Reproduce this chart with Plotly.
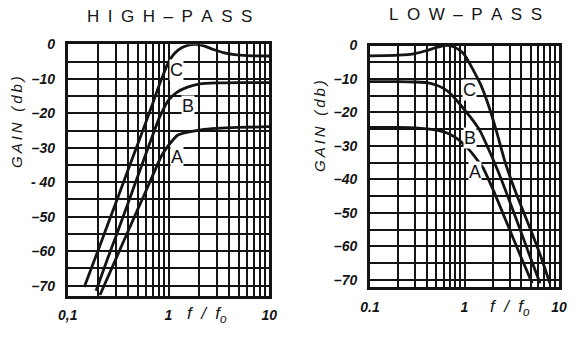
import math
import plotly.graph_objects as go

# ---- High-pass family (f/fo, gain in dB) ----
hp_a_f = [0.209, 0.3, 0.4, 0.5, 0.6, 0.735, 0.85, 1.0, 1.24, 1.6, 2.1, 3, 5, 10]
hp_a_db = [-72.7, -62.3, -54, -47.6, -42.4, -36.5, -32.4, -29.3, -26.3, -25.4, -24.8, -24.4, -24.1, -23.9]

hp_b_f = [0.191, 0.25, 0.3, 0.4, 0.521, 0.65, 0.8, 0.9, 1.0, 1.2, 1.52, 2.05, 3, 5, 10]
hp_b_db = [-71.5, -62, -55.8, -45.8, -36.5, -28.8, -21.7, -18.5, -16.2, -14, -12.5, -11.5, -11.2, -11.1, -11.1]

hp_c_f = [0.146, 0.2, 0.3, 0.396, 0.5, 0.6, 0.7, 0.8, 0.9, 1.0, 1.15, 1.35, 1.6, 1.83, 2.2, 2.8, 3.5, 4.5, 6, 10]
hp_c_db = [-70.4, -59.8, -46, -36.5, -28.6, -22.4, -17, -12.2, -8.3, -5.2, -2.6, -1, -0.2, 0, -0.4, -1.5, -2.4, -3, -3.3, -3.4]

# ---- Low-pass family ----
lp_a_f = [0.1, 0.2, 0.3, 0.4, 0.5, 0.6, 0.7, 0.85, 1.0, 1.14, 1.35, 1.57, 2, 3, 4, 5.2]
lp_a_db = [-24.5, -24.5, -24.6, -24.9, -25.3, -25.8, -26.5, -28, -29.8, -31.4, -34, -36.5, -43, -55, -63.5, -71]

lp_b_f = [0.1, 0.2, 0.3, 0.4, 0.5, 0.6, 0.7, 0.85, 1.0, 1.2, 1.46, 1.8, 2.26, 3, 4, 5, 6.3]
lp_b_db = [-10.8, -10.8, -10.9, -11.1, -11.8, -12.8, -14.2, -16.8, -19.2, -22, -25.5, -31, -37.5, -46.5, -56, -63.5, -71]

lp_c_f = [0.1, 0.2, 0.3, 0.4, 0.5, 0.62, 0.75, 0.9, 1.0, 1.14, 1.3, 1.5, 1.8, 2.2, 2.7, 3.5, 5, 6.5, 8.0]
lp_c_db = [-3.1, -2.9, -2.4, -1.5, -0.6, 0, -0.3, -1.5, -2.8, -5.5, -8.5, -12, -18, -26, -35, -44, -55, -63.5, -71]

# ---- Curve tags (f/fo, dB) ----
hp_tags = ["A", "B", "C"]
hp_tag_f = [1.21, 1.56, 1.21]
hp_tag_db = [-32.7, -17.9, -7.5]
lp_tags = ["A", "B", "C"]
lp_tag_f = [1.29, 1.14, 1.14]
lp_tag_db = [-37.8, -27.6, -13.3]

# ---- Grid and tick labels ----
grid_f = [round(m * 10 ** e, 3) for e in (-1, 0) for m in range(1, 10)] + [10]
hp_x_text = ["0,1"] + [""] * 8 + ["1"] + [""] * 8 + ["10"]
lp_x_text = ["0.1"] + [""] * 8 + ["1"] + [""] * 8 + ["10"]
grid_db = list(range(-70, 1, 5))
hp_y_text = ["–70", "", "–60", "", "–50", "", "- 40", "", "–30", "", "–20", "", "–10", "", "0"]
lp_y_text = ["–70", "", "–60", "", "–50", "", "–40", "", "–30", "", "–20", "", "–10", "", "0"]

INK = "#141414"
W, H = 576, 342
FONT = "Liberation Sans"

fig = go.Figure()


def curve(f, db, xa, ya):
    fig.add_trace(go.Scatter(
        x=f, y=db, mode="lines", xaxis=xa, yaxis=ya,
        line=dict(color=INK, width=2.8, shape="spline", smoothing=0.6),
        showlegend=False, hoverinfo="skip"))


for f, db in ((hp_a_f, hp_a_db), (hp_b_f, hp_b_db), (hp_c_f, hp_c_db)):
    curve(f, db, "x", "y")
for f, db in ((lp_a_f, lp_a_db), (lp_b_f, lp_b_db), (lp_c_f, lp_c_db)):
    curve(f, db, "x2", "y2")

tickfont = dict(family=FONT, size=14, color=INK, style="italic", weight="bold")


def xaxis(dom, text, anchor, standoff):
    return dict(type="log", range=[-1, 1], domain=dom, tickvals=grid_f, ticktext=text,
                showgrid=True, gridcolor=INK, gridwidth=1.7, showline=True, linecolor=INK,
                linewidth=2.6, mirror=True, ticks="", zeroline=False, tickfont=tickfont,
                ticklabelstandoff=standoff, fixedrange=True, anchor=anchor, automargin=False)


def yaxis(dom, rng, text, anchor):
    return dict(range=rng, domain=dom, tickvals=grid_db, ticktext=text,
                showgrid=True, gridcolor=INK, gridwidth=1.7, showline=True, linecolor=INK,
                linewidth=2.6, mirror=True, ticks="", zeroline=False, tickfont=tickfont,
                ticklabelstandoff=7, fixedrange=True, anchor=anchor, automargin=False)


fig.update_layout(
    width=W, height=H, margin=dict(l=0, r=0, t=0, b=0, autoexpand=False),
    paper_bgcolor="white", plot_bgcolor="white",
    xaxis=xaxis([67.7 / W, 269.3 / W], hp_x_text, "y", 4),
    yaxis=yaxis([1 - 296 / H, 1 - 44.3 / H], [-73, 0], hp_y_text, "x"),
    xaxis2=xaxis([370 / W, 559 / W], lp_x_text, "y2", 6),
    yaxis2=yaxis([1 - 286.5 / H, 1 - 45.5 / H], [-72, 0], lp_y_text, "x2"),
)


def paper_text(text, x, y, font, **kw):
    return dict(text=text, x=x / W, y=1 - y / H, xref="paper", yref="paper",
                xanchor="center", yanchor="middle", showarrow=False, font=font, **kw)


ann = []
# panel headings, letters spread with en spaces
sp = "\u2002"
th = "\u2009"
for left, right, x, y in (("HIGH", "PASS", 169, 17), ("LOW", "PASS", 465, 14)):
    ann.append(paper_text(sp.join(left) + sp + "–" + sp + sp.join(right), x, y,
                          dict(family=FONT, size=17, color=INK)))
# vertical axis titles
gain_title = th.join("GAIN") + sp + th + th.join("(db)")
for x, y in ((17, 122), (319, 126)):
    ann.append(paper_text(gain_title, x, y,
                          dict(family=FONT, size=15, color=INK, style="italic"), textangle=-90))
# horizontal axis titles
for x, y in ((207, 315), (510, 308)):
    ann.append(paper_text("f  /  f<sub>o</sub>", x, y,
                          dict(family=FONT, size=17, color=INK, style="italic")))
# curve tags
for tags, fs, dbs, xr, yr in ((hp_tags, hp_tag_f, hp_tag_db, "x", "y"),
                              (lp_tags, lp_tag_f, lp_tag_db, "x2", "y2")):
    for t, f, d in zip(tags, fs, dbs):
        ann.append(dict(text=t, x=math.log10(f), y=d, xref=xr, yref=yr,
                        xanchor="center", yanchor="middle",
                        showarrow=False, bgcolor="white", borderpad=0,
                        font=dict(family=FONT, size=18, color=INK)))
fig.update_layout(annotations=ann)

fig.write_html("out.html")
